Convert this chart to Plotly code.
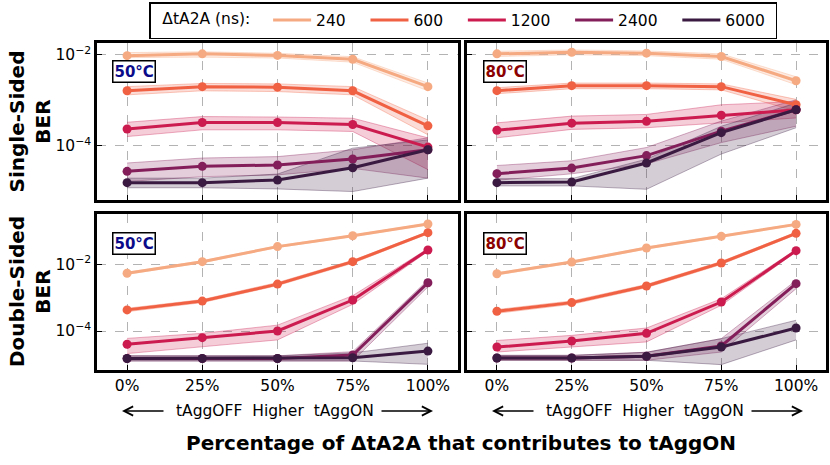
import plotly.graph_objects as go

W, H = 830, 465

PCT = ["0%", "25%", "50%", "75%", "100%"]
DELAYS = ["240", "600", "1200", "2400", "6000"]
COLORS = ["#f6aa82", "#f06043", "#cb1b4f", "#841e5a", "#3a1a41"]

# ---- Single-sided, 50C ----
SS50_MEAN = [
    [9.6e-3, 1.05e-2, 9.7e-3, 8.0e-3, 2.0e-3],
    [1.62e-3, 2.0e-3, 1.95e-3, 1.62e-3, 2.75e-4],
    [2.35e-4, 3.25e-4, 3.25e-4, 2.95e-4, 9.4e-5],
    [2.75e-5, 3.55e-5, 3.8e-5, 5.15e-5, 8.2e-5],
    [1.55e-5, 1.55e-5, 1.78e-5, 3.3e-5, 8.2e-5],
]
SS50_HI = [
    [1.12e-2, 1.17e-2, 1.08e-2, 9.1e-3, 2.4e-3],
    [2.0e-3, 2.35e-3, 2.3e-3, 2.0e-3, 3.7e-4],
    [3.3e-4, 4.4e-4, 4.3e-4, 4.05e-4, 1.5e-4],
    [4.2e-5, 5.4e-5, 5.8e-5, 8.2e-5, 1.5e-4],
    [1.95e-5, 1.95e-5, 2.4e-5, 8.9e-5, 1.35e-4],
]
SS50_LO = [
    [8.7e-3, 8.9e-3, 8.5e-3, 6.9e-3, 1.62e-3],
    [1.32e-3, 1.62e-3, 1.56e-3, 1.32e-3, 1.75e-4],
    [1.6e-4, 2.25e-4, 2.25e-4, 2.07e-4, 3.0e-5],
    [1.65e-5, 2.1e-5, 2.3e-5, 3.2e-5, 1.95e-5],
    [1.2e-5, 1.2e-5, 1.13e-5, 9.9e-6, 1.95e-5],
]

# ---- Single-sided, 80C ----
SS80_MEAN = [
    [1.05e-2, 1.14e-2, 1.09e-2, 9.2e-3, 2.7e-3],
    [1.63e-3, 2.1e-3, 2.1e-3, 2.0e-3, 8.0e-4],
    [2.2e-4, 3.15e-4, 3.45e-4, 4.7e-4, 6.2e-4],
    [2.45e-5, 3.25e-5, 6.1e-5, 2.1e-4, 6.2e-4],
    [1.55e-5, 1.6e-5, 4.2e-5, 1.95e-4, 6.2e-4],
]
SS80_HI = [
    [1.2e-2, 1.28e-2, 1.22e-2, 1.05e-2, 3.3e-3],
    [1.9e-3, 2.4e-3, 2.4e-3, 2.3e-3, 1.05e-3],
    [3.2e-4, 4.5e-4, 4.9e-4, 8.0e-4, 9.4e-4],
    [3.7e-5, 4.7e-5, 9.2e-5, 3.5e-4, 1.03e-3],
    [1.9e-5, 1.9e-5, 5.1e-5, 2.7e-4, 8.7e-4],
]
SS80_LO = [
    [9.2e-3, 1.0e-2, 9.6e-3, 8.0e-3, 2.2e-3],
    [1.4e-3, 1.8e-3, 1.8e-3, 1.7e-3, 5.8e-4],
    [1.5e-4, 2.3e-4, 2.5e-4, 3.2e-4, 4.1e-4],
    [1.75e-5, 2.43e-5, 4.0e-5, 1.18e-4, 2.7e-4],
    [1.32e-5, 1.32e-5, 1.11e-5, 6.6e-5, 2.5e-4],
]

# ---- Double-sided, 50C ----
DS50_MEAN = [
    [5.4e-3, 1.2e-2, 3.4e-2, 7.2e-2, 1.62e-1],
    [4.3e-4, 7.9e-4, 2.55e-3, 1.2e-2, 8.9e-2],
    [4.0e-5, 6.3e-5, 1.0e-4, 8.5e-4, 2.7e-2],
    [1.5e-5, 1.5e-5, 1.5e-5, 1.9e-5, 2.8e-3],
    [1.5e-5, 1.5e-5, 1.5e-5, 1.58e-5, 2.5e-5],
]
DS50_HI = [
    [5.8e-3, 1.28e-2, 3.6e-2, 7.6e-2, 1.7e-1],
    [4.8e-4, 8.8e-4, 2.85e-3, 1.32e-2, 9.6e-2],
    [6.0e-5, 8.5e-5, 1.5e-4, 1.15e-3, 2.95e-2],
    [1.8e-5, 1.8e-5, 1.8e-5, 2.4e-5, 3.4e-3],
    [1.8e-5, 1.8e-5, 1.8e-5, 2.2e-5, 4.3e-5],
]
DS50_LO = [
    [5.0e-3, 1.12e-2, 3.2e-2, 6.8e-2, 1.54e-1],
    [3.8e-4, 7.1e-4, 2.3e-3, 1.08e-2, 8.2e-2],
    [2.1e-5, 3.4e-5, 5.4e-5, 6.3e-4, 2.45e-2],
    [1.26e-5, 1.26e-5, 1.26e-5, 1.26e-5, 2.1e-3],
    [1.26e-5, 1.26e-5, 1.26e-5, 1.26e-5, 1.0e-5],
]

# ---- Double-sided, 80C ----
DS80_MEAN = [
    [5.2e-3, 1.17e-2, 3.1e-2, 6.9e-2, 1.58e-1],
    [3.9e-4, 7.1e-4, 2.24e-3, 1.1e-2, 8.5e-2],
    [3.3e-5, 5.0e-5, 8.5e-5, 7.4e-4, 2.57e-2],
    [1.55e-5, 1.55e-5, 1.74e-5, 3.55e-5, 2.63e-3],
    [1.55e-5, 1.55e-5, 1.74e-5, 3.3e-5, 1.23e-4],
]
DS80_HI = [
    [5.6e-3, 1.25e-2, 3.3e-2, 7.3e-2, 1.66e-1],
    [4.4e-4, 8.0e-4, 2.5e-3, 1.22e-2, 9.2e-2],
    [5.2e-5, 7.4e-5, 1.23e-4, 9.3e-4, 2.8e-2],
    [1.86e-5, 1.86e-5, 2.3e-5, 5.9e-5, 3.3e-3],
    [1.86e-5, 1.86e-5, 2.3e-5, 5.9e-5, 2.1e-4],
]
DS80_LO = [
    [4.8e-3, 1.09e-2, 2.9e-2, 6.5e-2, 1.5e-1],
    [3.4e-4, 6.3e-4, 2.0e-3, 9.9e-3, 7.8e-2],
    [2.34e-5, 3.3e-5, 4.7e-5, 5.9e-4, 2.35e-2],
    [1.32e-5, 1.32e-5, 1.32e-5, 2.34e-5, 1.86e-3],
    [1.32e-5, 1.32e-5, 1.32e-5, 9.8e-6, 5.4e-5],
]

PANELS = [
    ("x", "y", SS50_MEAN, SS50_LO, SS50_HI),
    ("x2", "y2", SS80_MEAN, SS80_LO, SS80_HI),
    ("x3", "y3", DS50_MEAN, DS50_LO, DS50_HI),
    ("x4", "y4", DS80_MEAN, DS80_LO, DS80_HI),
]

FONT = "DejaVu Sans"
NB = "\u00a0"


def rgba(hexc, a):
    h = hexc.lstrip("#")
    r, g, b = int(h[0:2], 16), int(h[2:4], 16), int(h[4:6], 16)
    return f"rgba({r},{g},{b},{a})"


def px(x):
    return x / W


def py(y):
    return 1 - y / H


fig = go.Figure()

for xa, ya, mean, lo, hi in PANELS:
    # bands
    for i, c in enumerate(COLORS):
        fig.add_trace(go.Scatter(
            x=PCT, y=hi[i], xaxis=xa, yaxis=ya, mode="lines",
            line=dict(color=rgba(c, 0.35), width=1), showlegend=False,
            hoverinfo="skip"))
        fig.add_trace(go.Scatter(
            x=PCT, y=lo[i], xaxis=xa, yaxis=ya, mode="lines",
            line=dict(color=rgba(c, 0.35), width=1), fill="tonexty",
            fillcolor=rgba(c, 0.22), showlegend=False, hoverinfo="skip"))
    # lines
    for i, c in enumerate(COLORS):
        fig.add_trace(go.Scatter(
            x=PCT, y=mean[i], xaxis=xa, yaxis=ya, mode="lines+markers",
            line=dict(color=c, width=3), marker=dict(color=c, size=9),
            name=DELAYS[i], showlegend=False))

# legend-only traces (lines only)
for i, c in enumerate(COLORS):
    pad = NB * (3 if i < len(COLORS) - 1 else 1)
    fig.add_trace(go.Scatter(
        x=[None], y=[None], xaxis="x", yaxis="y", mode="lines",
        line=dict(color=c, width=3), name=DELAYS[i] + pad,
        showlegend=True))

XD = [[px(97), px(458)], [px(467), px(826)]]
YD = [[py(200), py(43)], [py(370), py(214)]]

axis_common = dict(
    showline=True, mirror=True, linecolor="black", linewidth=2.5,
    ticks="inside", ticklen=5, tickwidth=1.2, tickcolor="black",
    showgrid=True, gridcolor="#b3b3b3", griddash="dash", gridwidth=1.2,
    zeroline=False, automargin=False,
    tickfont=dict(family=FONT, size=15.5, color="black"),
)

layout = {}
for k, (xa, ya) in enumerate([("x", "y"), ("x2", "y2"), ("x3", "y3"), ("x4", "y4")]):
    row, col = k // 2, k % 2
    xkey = "xaxis" if xa == "x" else "xaxis" + xa[1:]
    ykey = "yaxis" if ya == "y" else "yaxis" + ya[1:]
    layout[xkey] = dict(
        axis_common, domain=XD[col], anchor=ya, type="category",
        range=[-0.4, 4.4], showticklabels=(row == 1),
        categoryorder="array", categoryarray=PCT)
    yr = [-5.19, -1.74] if row == 0 else [-5.17, -0.49]
    layout[ykey] = dict(
        axis_common, domain=YD[row], anchor=xa, type="log", range=yr,
        tickvals=[1e-4, 1e-2],
        ticktext=["10<sup>\u22124</sup>", "10<sup>\u22122</sup>"],
        showticklabels=(col == 0))

fig.update_layout(**layout)

ann = []
# temperature labels
for col, (txt, clr) in enumerate([("50°C", "#0b0b8a"), ("80°C", "#8b0000")]):
    x0 = [112, 483][col]
    for ytop in (60, 232):
        ann.append(dict(
            x=px(x0), y=py(ytop), xref="paper", yref="paper",
            xanchor="left", yanchor="top", showarrow=False, text=txt,
            font=dict(family=FONT, size=15, color=clr, weight="bold"),
            bgcolor="white", bordercolor="black", borderwidth=1.5,
            borderpad=1))

# y titles
for yc, txt in [((43 + 200) / 2, "Single-Sided<br>BER"),
                ((214 + 370) / 2, "Double-Sided<br>BER")]:
    ann.append(dict(
        x=px(30), y=py(yc), xref="paper", yref="paper", textangle=-90,
        xanchor="center", yanchor="middle",
        showarrow=False, text=txt, align="center",
        font=dict(family=FONT, size=20, color="black", weight="bold")))

# direction hints
for off in (0, 370):
    ann.append(dict(
        x=px(275 + off), y=py(411), xref="paper", yref="paper",
        xanchor="center", yanchor="middle",
        showarrow=False, text="tAggOFF  Higher  tAggON",
        font=dict(family=FONT, size=15.5, color="black")))
    ann.append(dict(
        x=px(122 + off), y=py(411), xref="paper", yref="paper",
        ax=43, ay=0, showarrow=True, arrowhead=5, arrowsize=1.2,
        arrowwidth=1.5, arrowcolor="black", text=""))
    ann.append(dict(
        x=px(433 + off), y=py(411), xref="paper", yref="paper",
        ax=-53, ay=0, showarrow=True, arrowhead=5, arrowsize=1.2,
        arrowwidth=1.5, arrowcolor="black", text=""))

# x title
ann.append(dict(
    x=px(461), y=py(443), xref="paper", yref="paper", showarrow=False,
    xanchor="center", yanchor="middle",
    text="Percentage of ΔtA2A that contributes to tAggON",
    font=dict(family=FONT, size=20, color="black", weight="bold")))

fig.update_layout(
    width=W, height=H, margin=dict(l=0, r=0, t=0, b=0, autoexpand=False),
    paper_bgcolor="white", plot_bgcolor="white",
    font=dict(family=FONT, color="black"),
    annotations=ann,
    legend=dict(
        orientation="h", x=px(149), xanchor="left", y=py(2), yanchor="top",
        bordercolor="black", borderwidth=1.5, bgcolor="white",
        font=dict(family=FONT, size=15.5, color="black"),
        title=dict(text=NB * 2 + "ΔtA2A (ns):" + NB * 2, side="left",
                   font=dict(family=FONT, size=15.5, color="black")),
        itemwidth=38, tracegroupgap=0, traceorder="normal",
    ),
)

fig.write_html(
    "out.html",
    config={"displayModeBar": False},
    post_script="document.body.style.margin='0';"
                "document.body.style.overflow='hidden';")
